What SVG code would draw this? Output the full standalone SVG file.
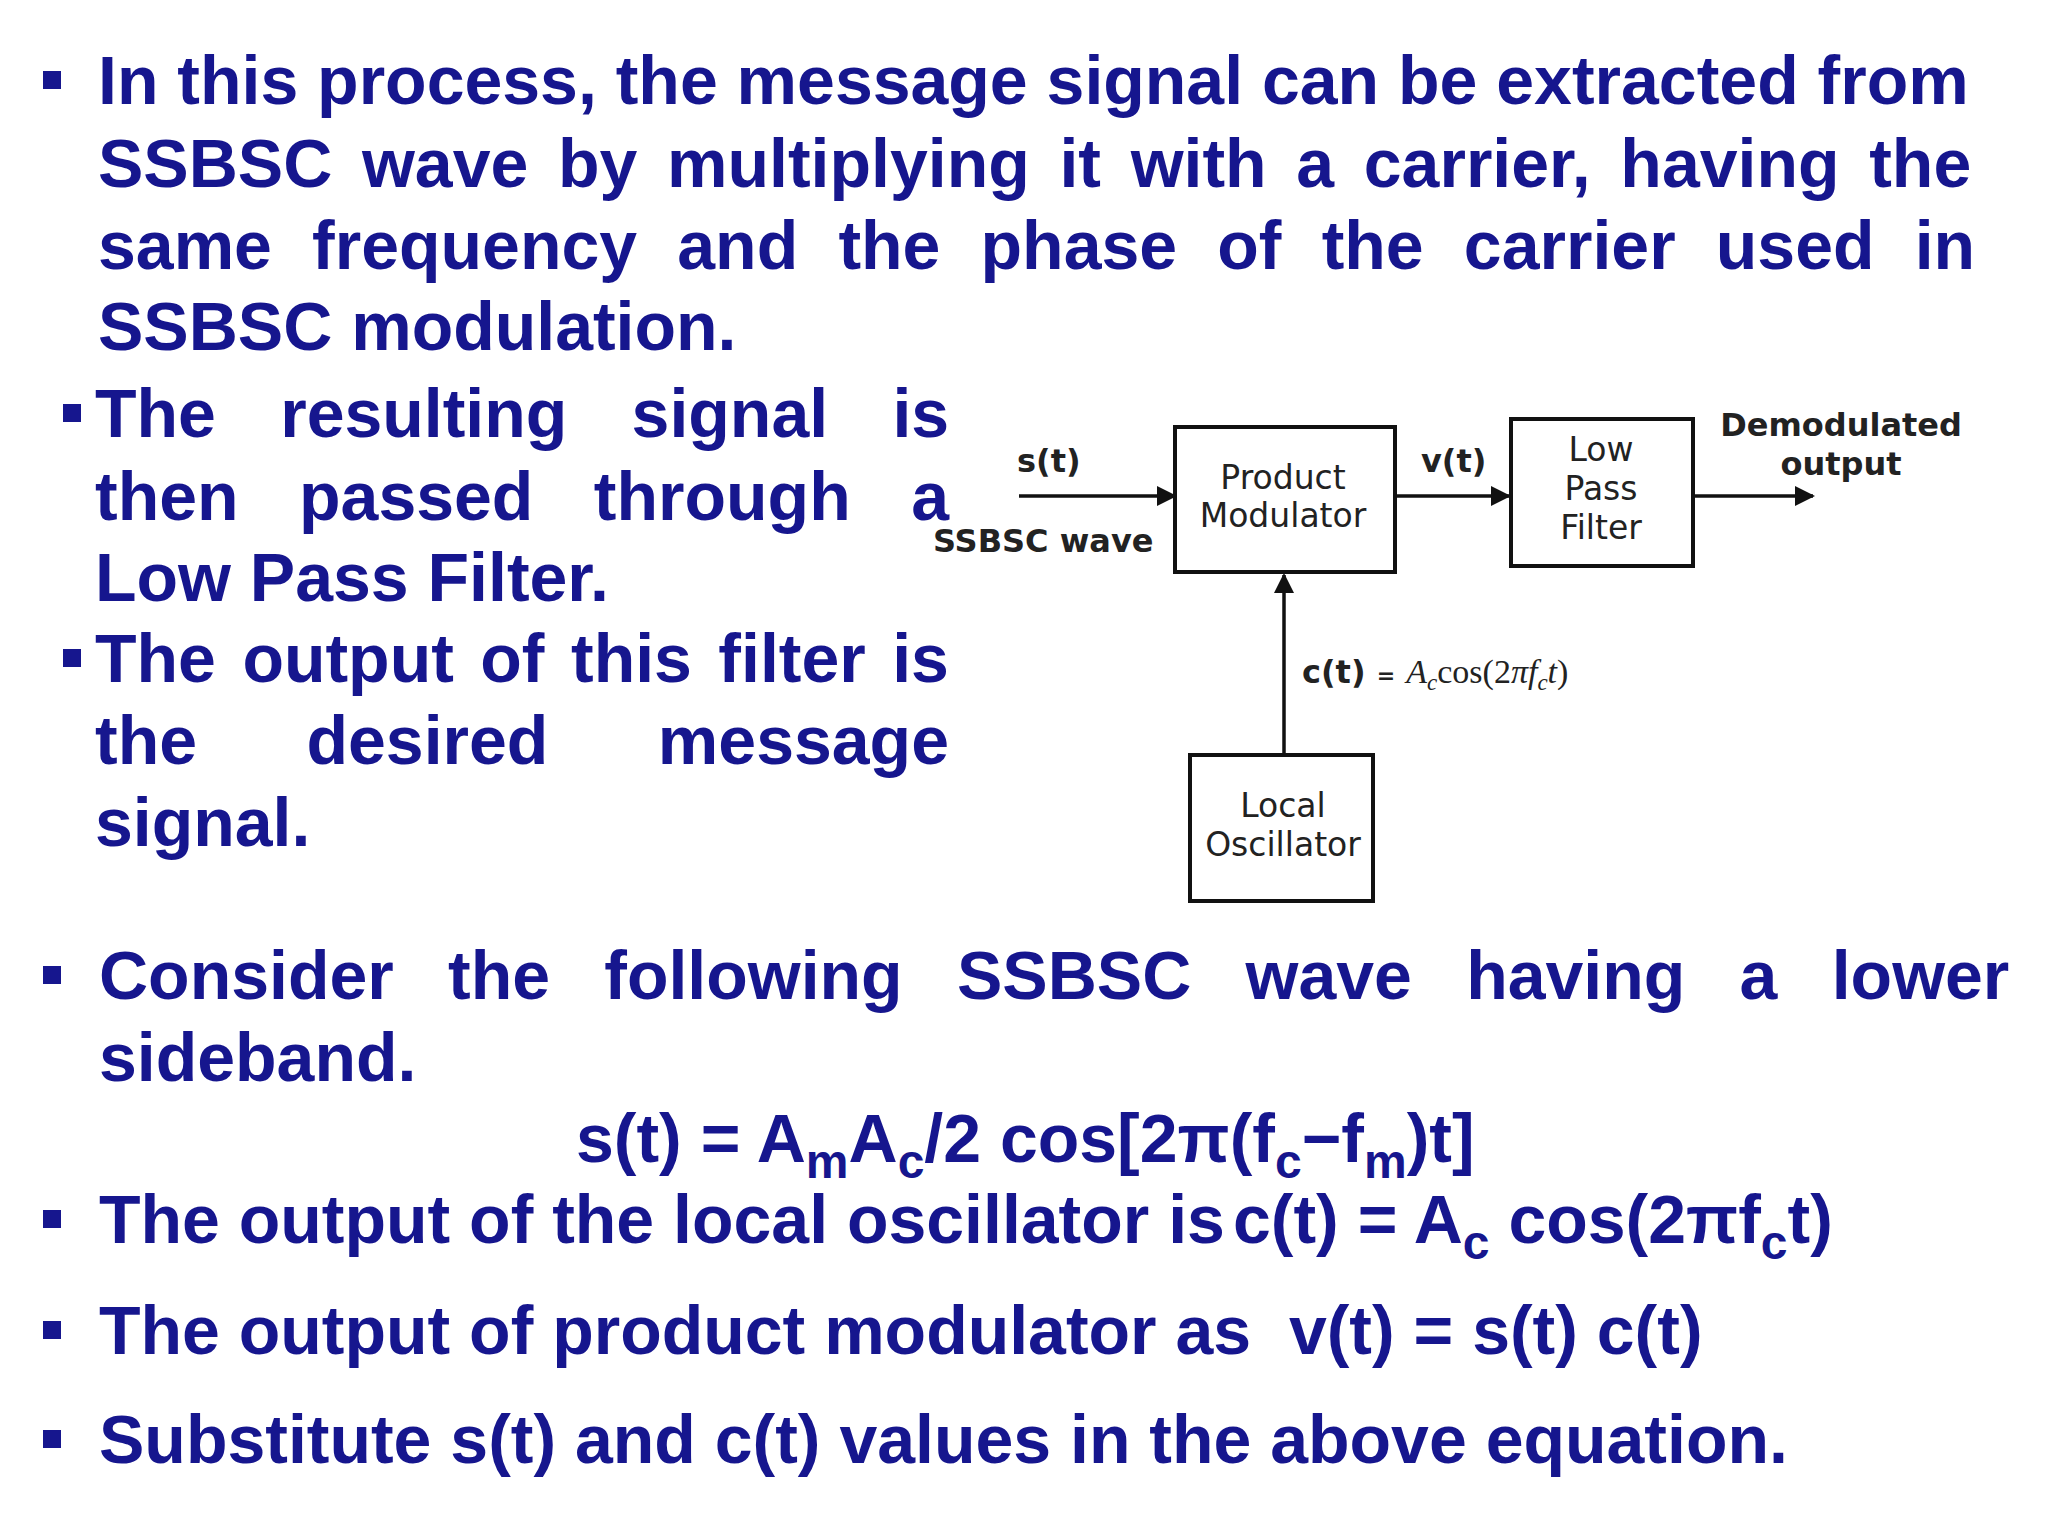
<svg xmlns="http://www.w3.org/2000/svg" width="2048" height="1536" viewBox="0 0 2048 1536">
<style>
.t{font-family:"Liberation Sans",Arial,sans-serif;font-weight:bold;font-size:68px;fill:#16168e}
.b{fill:#16168e}
.box{fill:#fff;stroke:#111;stroke-width:4}
.d{font-family:"DejaVu Sans",sans-serif;font-size:33px;fill:#222;text-anchor:middle}
.db{font-family:"DejaVu Sans",sans-serif;font-size:32px;font-weight:bold;fill:#222}
.ln{stroke:#111;stroke-width:3.5;fill:none}
</style>
<defs>
<marker id="a2" viewBox="0 0 10 10" refX="9" refY="5" markerWidth="22" markerHeight="20" orient="auto" markerUnits="userSpaceOnUse"><path d="M0,0 L10,5 L0,10 z" fill="#111"/></marker></defs>
<rect width="2048" height="1536" fill="#fff"/>
<g id="text1">
<rect class="b" x="43" y="71" width="18" height="18"/>
<text class="t" x="98" y="104">In this process, the message signal can be extracted from</text>
<text class="t" x="98" y="187" word-spacing="10.8">SSBSC wave by multiplying it with a carrier, having the</text>
<text class="t" x="98" y="269" word-spacing="21.3">same frequency and the phase of the carrier used in</text>
<text class="t" x="98" y="350">SSBSC modulation.</text>
<rect class="b" x="63" y="404" width="18" height="18"/>
<text class="t" x="95" y="437" word-spacing="45.4">The resulting signal is</text>
<text class="t" x="95" y="520" word-spacing="41.6">then passed through a</text>
<text class="t" x="95" y="601">Low Pass Filter.</text>
<rect class="b" x="63" y="649" width="18" height="18"/>
<text class="t" x="95" y="682" word-spacing="7.6">The output of this filter is</text>
<text class="t" x="95" y="764" word-spacing="90.6">the desired message</text>
<text class="t" x="95" y="846">signal.</text>
<rect class="b" x="43" y="966" width="18" height="18"/>
<text class="t" x="99" y="999" word-spacing="35.4">Consider the following SSBSC wave having a lower</text>
<text class="t" x="99" y="1081">sideband.</text>
<text class="t" x="576" y="1162">s(t) = A<tspan dy="16" font-size="48">m</tspan><tspan dy="-16">A</tspan><tspan dy="16" font-size="48">c</tspan><tspan dy="-16">/2 cos[2π(f</tspan><tspan dy="16" font-size="48">c</tspan><tspan dy="-16">−f</tspan><tspan dy="16" font-size="48">m</tspan><tspan dy="-16">)t]</tspan></text>
<rect class="b" x="43" y="1210" width="18" height="18"/>
<text class="t" x="99" y="1243">The output of the local oscillator is<tspan x="1233">c(t) = A</tspan><tspan dy="16" font-size="48">c</tspan><tspan dy="-16"> cos(2πf</tspan><tspan dy="16" font-size="48">c</tspan><tspan dy="-16">t)</tspan></text>
<rect class="b" x="43" y="1321" width="18" height="18"/>
<text class="t" x="99" y="1354" xml:space="preserve">The output of product modulator as  v(t) = s(t) c(t)</text>
<rect class="b" x="43" y="1430" width="18" height="18"/>
<text class="t" x="99" y="1463">Substitute s(t) and c(t) values in the above equation.</text>
</g>
<g id="connectors">
<line class="ln" x1="1019" y1="496" x2="1175" y2="496" marker-end="url(#a2)"/>
<line class="ln" x1="1397" y1="496" x2="1509" y2="496" marker-end="url(#a2)"/>
<line class="ln" x1="1695" y1="496" x2="1813" y2="496" marker-end="url(#a2)"/>
<line class="ln" x1="1284" y1="755" x2="1284" y2="575" marker-end="url(#a2)"/>
<text class="db" x="1017" y="472">s(t)</text>
<text class="db" x="933" y="552" font-size="31">SSBSC wave</text>
<text class="db" x="1421" y="472">v(t)</text>
<text class="db" x="1841" y="436" text-anchor="middle" font-size="31">Demodulated</text>
<text class="db" x="1841" y="475" text-anchor="middle" font-size="31">output</text>
<text class="db" x="1302" y="683">c(t) <tspan font-size="22">=</tspan> <tspan font-family="Liberation Serif,serif" font-weight="normal" font-style="italic" font-size="34">A<tspan dy="7" font-size="23">c</tspan><tspan dy="-7" font-style="normal">cos(2</tspan>π<tspan>f</tspan><tspan dy="7" font-size="23">c</tspan><tspan dy="-7">t</tspan><tspan font-style="normal">)</tspan></tspan></text>
</g>
<g id="pm"><rect class="box" x="1175" y="427" width="220" height="145"/>
<text class="d" x="1283" y="489">Product</text><text class="d" x="1283" y="527">Modulator</text></g>
<g id="lpf"><rect class="box" x="1511" y="419" width="182" height="147"/>
<text class="d" x="1601" y="461">Low</text><text class="d" x="1601" y="500">Pass</text><text class="d" x="1601" y="539">Filter</text></g>
<g id="lo"><rect class="box" x="1190" y="755" width="183" height="146"/>
<text class="d" x="1283" y="817">Local</text><text class="d" x="1283" y="856">Oscillator</text></g>
</svg>
